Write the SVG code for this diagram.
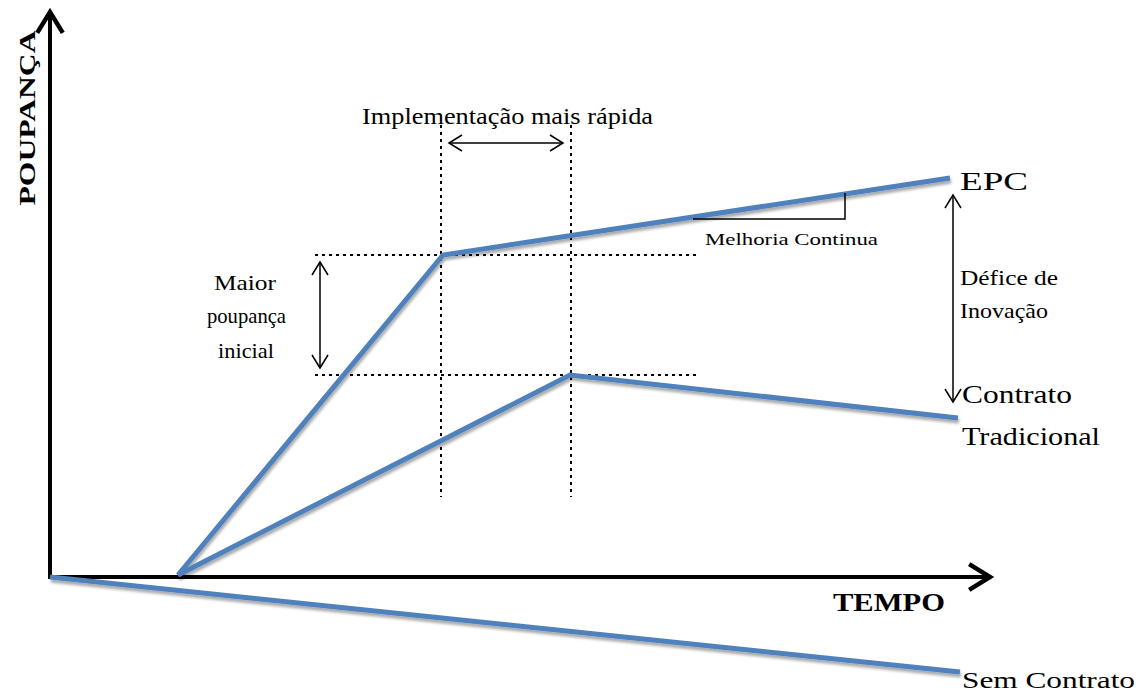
<svg xmlns="http://www.w3.org/2000/svg" width="1140" height="695" viewBox="0 0 1140 695">
<style>
text{font-family:"Liberation Serif","Times New Roman",serif;fill:#000}
.b{font-weight:bold}
.blue{fill:none;stroke:#4F81BD;stroke-width:5;stroke-linejoin:miter;filter:url(#sh)}
.dot{fill:none;stroke:#000;stroke-width:2;stroke-dasharray:3 4}
.thin{fill:none;stroke:#000;stroke-width:1.5}
.axis{fill:none;stroke:#000;stroke-width:4}
</style>
<defs>
<filter id="sh" x="-10%" y="-10%" width="120%" height="130%">
<feGaussianBlur in="SourceAlpha" stdDeviation="1.5"/>
<feOffset dx="1" dy="2.5" result="o"/>
<feComponentTransfer><feFuncA type="linear" slope="0.35"/></feComponentTransfer>
<feMerge><feMergeNode/><feMergeNode in="SourceGraphic"/></feMerge>
</filter>
<marker id="ah" viewBox="0 0 20 20" refX="17" refY="10" markerWidth="20" markerHeight="20" markerUnits="userSpaceOnUse" orient="auto-start-reverse">
<path d="M4,2 L17,10 L4,18" fill="none" stroke="#000" stroke-width="1.5"/>
</marker>
<marker id="axh" viewBox="0 0 10 10" refX="8.5" refY="5" markerWidth="8" markerHeight="8" orient="auto">
<path d="M2,1 L8.5,5 L2,9" fill="none" stroke="#000" stroke-width="1.4"/>
</marker>
</defs>
<g id="axes">
<line class="axis" x1="50" y1="577" x2="50" y2="12" marker-end="url(#axh)"/>
<line class="axis" x1="48" y1="577" x2="990" y2="577" marker-end="url(#axh)"/>
<text class="b" font-size="24" transform="translate(35,118) rotate(-90)" text-anchor="middle" textLength="175" lengthAdjust="spacingAndGlyphs">POUPANÇA</text>
<text class="b" font-size="25" x="833" y="611" textLength="112" lengthAdjust="spacingAndGlyphs">TEMPO</text>
</g>
<g id="guides">
<line class="dot" x1="441" y1="125" x2="441" y2="497"/>
<line class="dot" x1="571" y1="125" x2="571" y2="497"/>
<line class="dot" x1="315" y1="255" x2="700" y2="255"/>
<line class="dot" x1="315" y1="375" x2="700" y2="375"/>
</g>
<g id="curves">
<polyline class="blue" points="178,575 443,255 950,178"/>
<polyline class="blue" points="178,575 570,375 958,418"/>
<polyline class="blue" points="50,577 960,672"/>
</g>
<g id="connectors">
<line class="thin" x1="449" y1="143" x2="563" y2="143" marker-start="url(#ah)" marker-end="url(#ah)"/>
<line class="thin" x1="320" y1="262" x2="320" y2="368" marker-start="url(#ah)" marker-end="url(#ah)"/>
<line class="thin" x1="953" y1="195" x2="953" y2="402" marker-start="url(#ah)" marker-end="url(#ah)"/>
<polyline class="thin" points="693,219 845,219 845,193"/>
</g>
<g id="labels">
<text font-size="23" x="362" y="124" textLength="291" lengthAdjust="spacingAndGlyphs">Implementação mais rápida</text>
<text font-size="22" x="214" y="290" textLength="62" lengthAdjust="spacingAndGlyphs">Maior</text>
<text font-size="22" x="207" y="323" textLength="79" lengthAdjust="spacingAndGlyphs">poupança</text>
<text font-size="22" x="218" y="358" textLength="56" lengthAdjust="spacingAndGlyphs">inicial</text>
<text font-size="17" x="705" y="245" textLength="173" lengthAdjust="spacingAndGlyphs">Melhoria Continua</text>
<text font-size="26" x="960" y="190" textLength="68" lengthAdjust="spacingAndGlyphs">EPC</text>
<text font-size="22" x="960" y="285" textLength="98" lengthAdjust="spacingAndGlyphs">Défice de</text>
<text font-size="22" x="960" y="318" textLength="88" lengthAdjust="spacingAndGlyphs">Inovação</text>
<text font-size="26" x="962" y="403" textLength="110" lengthAdjust="spacingAndGlyphs">Contrato</text>
<text font-size="26" x="962" y="445" textLength="138" lengthAdjust="spacingAndGlyphs">Tradicional</text>
<text font-size="24" x="962" y="688" textLength="173" lengthAdjust="spacingAndGlyphs">Sem Contrato</text>
</g>
</svg>
